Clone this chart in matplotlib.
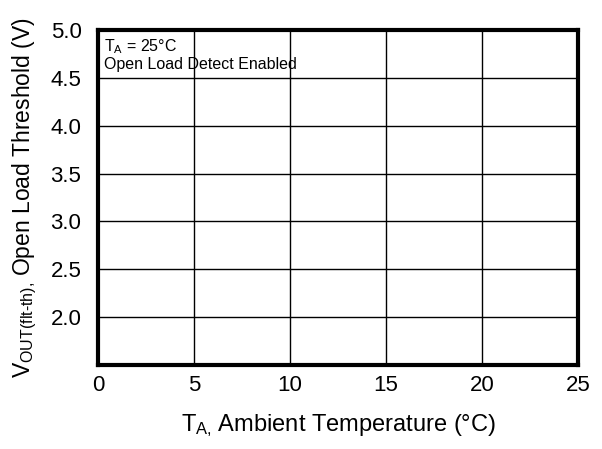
import numpy as np
import matplotlib
matplotlib.use('Agg')
import matplotlib.pyplot as plt

plt.rcParams['font.family'] = ['Liberation Sans', 'DejaVu Sans']
plt.rcParams['mathtext.fontset'] = 'custom'
plt.rcParams['mathtext.rm'] = 'Liberation Sans'
plt.rcParams['mathtext.it'] = 'Liberation Sans'

x_ticks = [0, 5, 10, 15, 20, 25]
y_ticks = [1.5, 2.0, 2.5, 3.0, 3.5, 4.0, 4.5, 5.0]
y_labels = ['', '2.0', '2.5', '3.0', '3.5', '4.0', '4.5', '5.0']
note_lines = [r'T$_\mathregular{A}$ = 25°C', 'Open Load Detect Enabled']

fig = plt.figure(figsize=(6.02, 4.49), dpi=100)
ax = fig.add_axes([0.163, 0.187, 0.797, 0.746])

ax.set_xlim(0, 25)
ax.set_ylim(1.5, 5.0)
ax.set_xticks(x_ticks)
ax.set_yticks(y_ticks)
ax.set_yticklabels(y_labels)
ax.tick_params(length=0, labelsize=16, colors='black')
ax.tick_params(axis='x', pad=7)
ax.tick_params(axis='y', pad=12)
ax.grid(True, color='black', linewidth=1)
for s in ax.spines.values():
    s.set_linewidth(3)

ax.text(0.3, 4.92, note_lines[0], fontsize=11.5, va='top', ha='left')
ax.text(0.3, 4.72, note_lines[1], fontsize=11.5, va='top', ha='left')

ax.set_xlabel(r'T$_\mathregular{A,}\/$Ambient Temperature (°C)', fontsize=17, labelpad=12)
ax.set_ylabel(r'V$_\mathregular{OUT(flt\text{-}th),}\/$Open Load Threshold (V)', fontsize=16.5, labelpad=8)

fig.savefig('out.png', dpi=100)
